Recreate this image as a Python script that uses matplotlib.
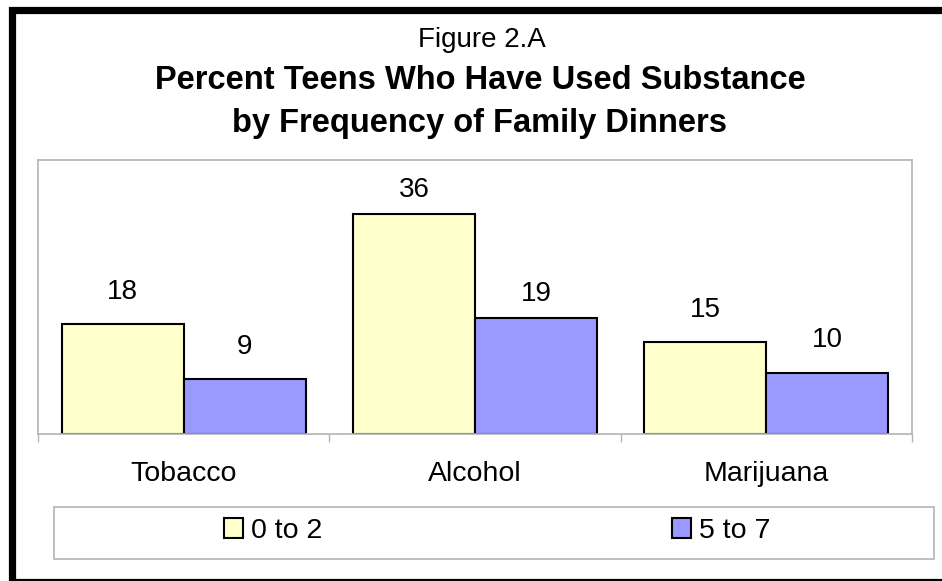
import matplotlib.pyplot as plt
from matplotlib.patches import Rectangle, Patch
import numpy as np

plt.rcParams['font.family'] = ['Liberation Sans', 'DejaVu Sans']

categories = ["Tobacco", "Alcohol", "Marijuana"]
low_dinners = [18, 36, 15]     # 0 to 2 dinners a week
high_dinners = [9, 19, 10]     # 5 to 7 dinners a week
series_names = ["0 to 2", "5 to 7"]

yellow = "#FFFFCC"
blue = "#9999FF"
grey = "#b4b4b4"

fig = plt.figure(figsize=(9.42, 5.81), dpi=100)
ax = fig.add_axes([38/942, 1-434/581, 874/942, 274/581])

x = np.arange(len(categories))
w = 0.419
b1 = ax.bar(x - w/2, low_dinners, w, color=yellow, edgecolor="black", linewidth=1.5)
b2 = ax.bar(x + w/2, high_dinners, w, color=blue, edgecolor="black", linewidth=1.5)

# value labels; the alcohol ones sit a bit closer to their bars in the original
pad = [13.5, 8, 14]
for bars in (b1, b2):
    for i, bar in enumerate(bars):
        ax.annotate(str(int(bar.get_height())),
                    (bar.get_x() + bar.get_width()/2, bar.get_height()),
                    xytext=(0, pad[i]), textcoords="offset points",
                    ha="center", va="bottom", fontsize=20)

ax.set_xlim(-0.5, len(categories) - 0.5)
ax.set_ylim(0, 44.8)
ax.set_yticks([])

# tick marks at the category edges, labels in the middle
ax.set_xticks(np.arange(len(categories) + 1) - 0.5)
ax.set_xticklabels([])
ax.tick_params(axis="x", which="major", length=6, width=1, color=grey, direction="out")
ax.set_xticks(x, minor=True)
ax.set_xticklabels(categories, minor=True, fontsize=20.5)
ax.tick_params(axis="x", which="minor", length=0, pad=19.5)

for s in ax.spines.values():
    s.set_color(grey)
    s.set_linewidth(1.2)

# titles
fig.text(482/942, 1-47/581, "Figure 2.A", ha="center", va="baseline", fontsize=20)
fig.text(480/942, 1-89/581, "Percent Teens Who Have Used Substance",
         ha="center", va="baseline", fontsize=23.5, fontweight="bold")
fig.text(479/942, 1-132/581, "by Frequency of Family Dinners",
         ha="center", va="baseline", fontsize=23.5, fontweight="bold")

# legend box
fig.patches.append(Rectangle((54/942, 1-559/581), 880/942, 52/581, transform=fig.transFigure,
                             fill=False, edgecolor=grey, linewidth=1.2))
handles = [Patch(facecolor=yellow, edgecolor="black", linewidth=1.5),
           Patch(facecolor=blue, edgecolor="black", linewidth=1.5)]
fig.legend(handles, series_names, loc="center", bbox_to_anchor=(497/942, 1-531/581),
           ncol=2, frameon=False, fontsize=20.5, handlelength=0.68, handleheight=0.68,
           handletextpad=0.25, columnspacing=12.3)

# thick black frame round the page (right side runs off the picture)
fig.patches.append(Rectangle((11.5/942, -1/581), 945/942, 572/581,
                             transform=fig.transFigure, fill=False, edgecolor="black", linewidth=5.2))

plt.savefig("out.png", dpi=100)
